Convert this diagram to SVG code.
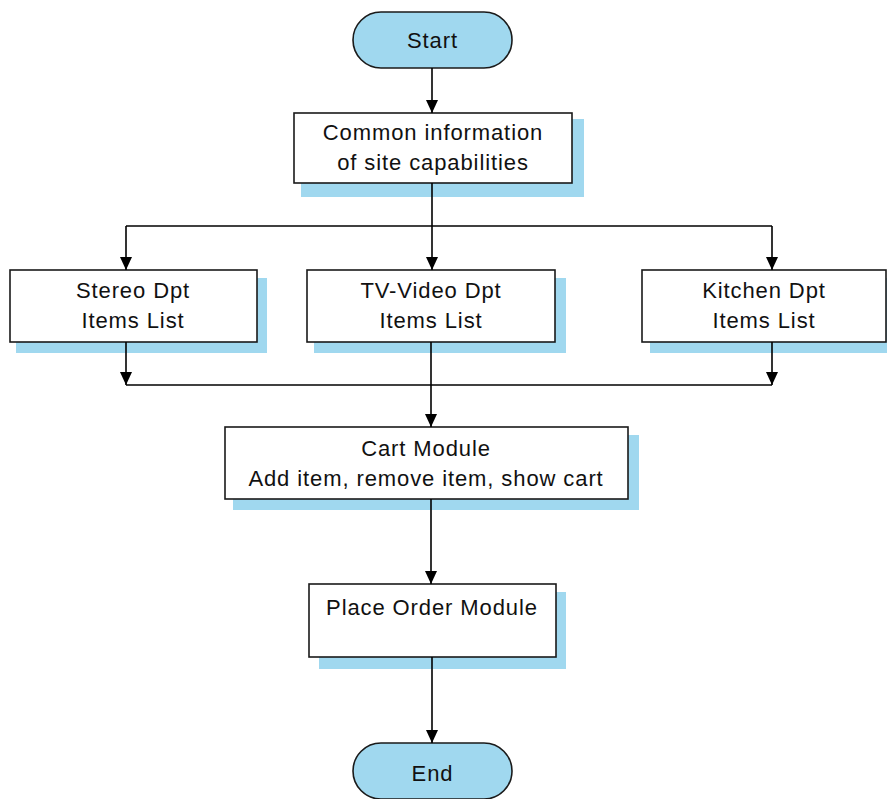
<svg xmlns="http://www.w3.org/2000/svg" width="887" height="799" viewBox="0 0 887 799">
<style>
.shadow{fill:#a0d8ef;stroke:none}
.box{fill:#ffffff;stroke:#1a1a1a;stroke-width:1.6}
.term{fill:#a0d8ef;stroke:#1a1a1a;stroke-width:1.6}
.t{font-family:"Liberation Sans",Arial,sans-serif;font-size:22px;letter-spacing:0.9px;fill:#111;text-anchor:middle}
.c{fill:none;stroke:#000;stroke-width:1.6}
</style>
<defs>
<marker id="arr" markerUnits="userSpaceOnUse" markerWidth="13" markerHeight="12" viewBox="0 0 13 12" refX="13" refY="6" orient="auto">
<path d="M0,0 L13,6 L0,12 z" fill="#000"/>
</marker>
</defs>
<rect width="887" height="799" fill="#fff"/>
<g id="start">
<rect class="term" x="353" y="12" width="159" height="56" rx="28" ry="28"/>
<text class="t" x="432.5" y="48">Start</text>
</g>
<g id="common">
<rect class="shadow" x="301" y="119" width="283" height="78"/>
<rect class="box" x="294" y="113" width="278" height="70"/>
<text class="t" x="433" y="140">Common information</text>
<text class="t" x="433" y="170">of site capabilities</text>
</g>
<g id="stereo">
<rect class="shadow" x="16" y="278" width="251" height="75"/>
<rect class="box" x="10" y="270" width="247" height="72"/>
<text class="t" x="133" y="298">Stereo Dpt</text>
<text class="t" x="133" y="328">Items List</text>
</g>
<g id="tvvideo">
<rect class="shadow" x="314" y="278" width="252" height="75"/>
<rect class="box" x="307" y="270" width="248" height="72"/>
<text class="t" x="431" y="298">TV-Video Dpt</text>
<text class="t" x="431" y="328">Items List</text>
</g>
<g id="kitchen">
<rect class="shadow" x="650" y="278" width="240" height="75"/>
<rect class="box" x="642" y="270" width="244" height="72"/>
<text class="t" x="764" y="298">Kitchen Dpt</text>
<text class="t" x="764" y="328">Items List</text>
</g>
<g id="cart">
<rect class="shadow" x="233" y="435" width="406" height="75"/>
<rect class="box" x="225" y="427" width="403" height="72"/>
<text class="t" x="426" y="456">Cart Module</text>
<text class="t" x="426" y="486">Add item, remove item, show cart</text>
</g>
<g id="placeorder">
<rect class="shadow" x="319" y="592" width="247" height="77"/>
<rect class="box" x="309" y="584" width="247" height="73"/>
<text class="t" x="432" y="615">Place Order Module</text>
</g>
<g id="end">
<rect class="term" x="353" y="743" width="159" height="56" rx="28" ry="28"/>
<text class="t" x="432.5" y="781">End</text>
</g>
<g id="connectors">
<line class="c" x1="432" y1="68" x2="432" y2="113" marker-end="url(#arr)"/>
<line class="c" x1="432" y1="183" x2="432" y2="226"/>
<line class="c" x1="126" y1="226" x2="772" y2="226"/>
<line class="c" x1="126" y1="226" x2="126" y2="270" marker-end="url(#arr)"/>
<line class="c" x1="432" y1="226" x2="432" y2="270" marker-end="url(#arr)"/>
<line class="c" x1="772" y1="226" x2="772" y2="270" marker-end="url(#arr)"/>
<line class="c" x1="126" y1="342" x2="126" y2="385" marker-end="url(#arr)"/>
<line class="c" x1="772" y1="342" x2="772" y2="385" marker-end="url(#arr)"/>
<line class="c" x1="126" y1="385" x2="772" y2="385"/>
<line class="c" x1="431" y1="342" x2="431" y2="427" marker-end="url(#arr)"/>
<line class="c" x1="431" y1="499" x2="431" y2="584" marker-end="url(#arr)"/>
<line class="c" x1="432" y1="657" x2="432" y2="743" marker-end="url(#arr)"/>
</g>
</svg>
